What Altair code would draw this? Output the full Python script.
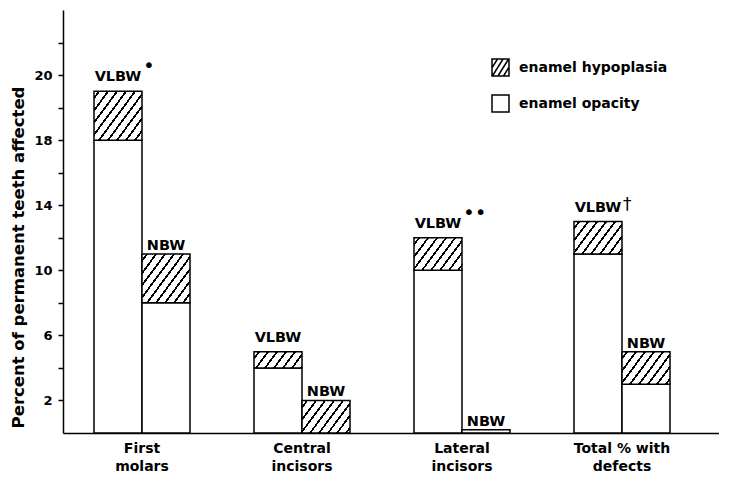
import altair as alt
import pandas as pd

# ---- data ----
categories = ["First molars", "Central incisors", "Lateral incisors", "Total % with defects"]
groups = ["VLBW", "NBW"]
opacity_vlbw = [18, 4, 10, 11]
opacity_nbw = [8, 0, 0.2, 3]
hypoplasia_vlbw = [3, 1, 2, 2]
hypoplasia_nbw = [3, 2, 0, 2]
markers_vlbw = ["•", "", "••", "†"]
markers_nbw = ["", "", "", ""]
y_tick_values = [2, 4, 6, 8, 10, 12, 14, 16, 18, 20, 22, 24]
y_label_values = [2, 6, 10, 14, 18, 22]
y_label_texts = ["2", "6", "10", "14", "18", "20"]
legend_labels = ["enamel hypoplasia", "enamel opacity"]

rows = []
for i, c in enumerate(categories):
    rows.append(dict(cat=c, grp="VLBW", opacity=opacity_vlbw[i], hyp=hypoplasia_vlbw[i], mark=markers_vlbw[i]))
    rows.append(dict(cat=c, grp="NBW", opacity=opacity_nbw[i], hyp=hypoplasia_nbw[i], mark=markers_nbw[i]))
df = pd.DataFrame(rows)
df["top"] = df["opacity"] + df["hyp"]
legend_df = pd.DataFrame({"kind": legend_labels})

# ---- layout / style ----
W_PLOT, H_PLOT, Y_MAX = 656, 423, 26
PX = H_PLOT / Y_MAX
BAR_W = 48.0
FONT = "DejaVu Sans"


def hatch(h_units, k=1.35, period=9.0, line=2.2):
    W, H = BAR_W, h_units * PX
    span = k * W + H
    m = span / (k * k * W * W + H * H)
    gx, gy = k * m * W, m * H
    dt = k * period / span
    dl = k * line / span
    stops = [alt.GradientStop(offset=0, color="white")]
    t = dt * 0.45
    while t < 1:
        a, b = t, min(t + dl, 1.0)
        stops += [
            alt.GradientStop(offset=a, color="white"),
            alt.GradientStop(offset=a, color="black"),
            alt.GradientStop(offset=b, color="black"),
            alt.GradientStop(offset=b, color="white"),
        ]
        t += dt
    stops.append(alt.GradientStop(offset=1, color="white"))
    return alt.LinearGradient(gradient="linear", x1=0, y1=0, x2=gx, y2=gy, stops=stops)


label_expr = ""
for v, s in zip(y_label_values, y_label_texts):
    label_expr += f"datum.value == {v} ? '{s}' : "
label_expr += "''"

x_enc = alt.X(
    "cat:N",
    sort=categories,
    scale=alt.Scale(paddingInner=0.4, paddingOuter=0.25, align=0.3875),
    axis=alt.Axis(
        title=None, ticks=False, labelAngle=0, labelBaseline="top", labelPadding=8,
        labelLineHeight=18, labelFontSize=14, labelFont=FONT, labelFontWeight="bold",
        labelColor="black",
        labelExpr="datum.label == 'Total % with defects' ? ['Total % with', 'defects'] : split(datum.label, ' ')",
    ),
)
xo_enc = alt.XOffset("grp:N", sort=groups, scale=alt.Scale(paddingInner=0, paddingOuter=0))
y_scale = alt.Scale(domain=[0, Y_MAX], nice=False)
y_axis = alt.Axis(
    title="Percent of permanent teeth affected", values=y_tick_values, labelExpr=label_expr,
    grid=False, tickSize=5, labelPadding=6, labelFontSize=13, labelFont=FONT,
    labelFontWeight="bold", labelColor="black", titleFont=FONT, titleFontSize=16.5,
    titleFontWeight="bold", titleColor="black", titleAngle=270, titleX=-40, titleY=247,
    titleAlign="center", titleBaseline="alphabetic",
)

base = alt.Chart(df)

opacity_layer = base.transform_filter("datum.opacity > 0").mark_bar(
    fill="white", stroke="black", strokeWidth=1.5
).encode(x=x_enc, xOffset=xo_enc, y=alt.Y("opacity:Q", scale=y_scale, axis=y_axis))

hatch_layers = []
for h in sorted(set(v for v in hypoplasia_vlbw + hypoplasia_nbw if v > 0)):
    hatch_layers.append(
        base.transform_filter(f"datum.hyp == {h}").mark_bar(
            fill=hatch(h), stroke="black", strokeWidth=1.5
        ).encode(
            x=x_enc, xOffset=xo_enc,
            y=alt.Y("opacity:Q", scale=y_scale, axis=y_axis), y2="top:Q",
        )
    )

text_style = dict(font=FONT, fontWeight="bold", fontSize=14.5, color="black", baseline="alphabetic")
vlbw_text = base.transform_filter("datum.grp == 'VLBW'").mark_text(dy=-10, **text_style).encode(
    x=x_enc, xOffset=xo_enc, y=alt.Y("top:Q", scale=y_scale, axis=y_axis), text="grp:N")
nbw_text = base.transform_filter("datum.grp == 'NBW'").mark_text(dy=-4, **text_style).encode(
    x=x_enc, xOffset=xo_enc, y=alt.Y("top:Q", scale=y_scale, axis=y_axis), text="grp:N")
bullet_text = base.transform_filter("indexof(datum.mark, '•') >= 0").mark_text(
    align="left", dx=25, dy=-19, font=FONT, fontSize=20, color="black", baseline="alphabetic"
).encode(x=x_enc, xOffset=xo_enc, y=alt.Y("top:Q", scale=y_scale, axis=y_axis), text="mark:N")
dagger_text = base.transform_filter("datum.mark == '†'").mark_text(
    align="left", dx=25, dy=-12, font=FONT, fontSize=17, color="black", baseline="alphabetic"
).encode(x=x_enc, xOffset=xo_enc, y=alt.Y("top:Q", scale=y_scale, axis=y_axis), text="mark:N")

square_path = "M-1,-1H1V1H-1Z"
hatch_path = (square_path + " M-1,0.04L-0.35,-1 M-0.95,1L0.3,-1 M-0.3,1L0.95,-1 M0.35,1L1,-0.04")
legend_layer = alt.Chart(legend_df).mark_point(opacity=0).encode(
    shape=alt.Shape(
        "kind:N", sort=legend_labels,
        scale=alt.Scale(domain=legend_labels, range=[hatch_path, square_path]),
        legend=alt.Legend(
            title=None, orient="none", legendX=428, legendY=48, padding=0,
            symbolSize=289, symbolStrokeColor="black", symbolStrokeWidth=1.5,
            symbolFillColor="white", symbolOpacity=1, labelFont=FONT, labelFontSize=14,
            labelFontWeight="bold", labelColor="black", labelOffset=9, rowPadding=13,
        ),
    )
)

chart = alt.layer(
    opacity_layer, *hatch_layers, vlbw_text, nbw_text, bullet_text, dagger_text, legend_layer
).properties(
    width=W_PLOT, height=H_PLOT,
    autosize=alt.AutoSizeParams(type="none"),
    padding={"left": 55, "top": 2, "right": 0, "bottom": 44},
).configure_view(stroke=None).configure_axis(
    domainColor="black", domainWidth=1.5, tickColor="black", tickWidth=1.5
)

chart.save("out.html", embed_options={"renderer": "svg", "actions": False})
